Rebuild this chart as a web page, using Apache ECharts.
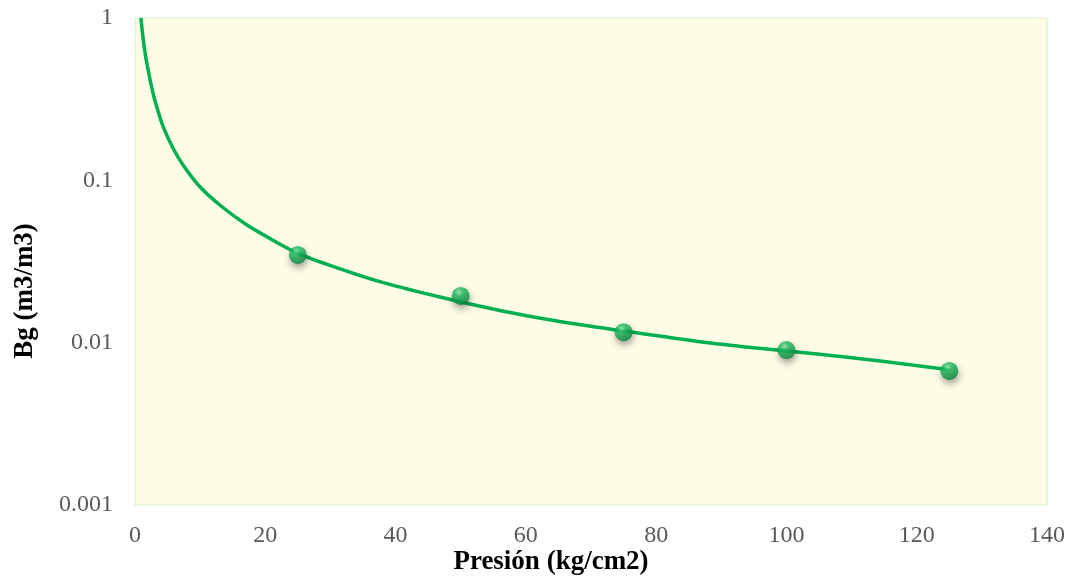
<!DOCTYPE html>
<html>
<head>
<meta charset="utf-8">
<script src="https://cdn.jsdelivr.net/npm/echarts@6/dist/echarts.min.js"></script>
<style>
  html, body { margin: 0; padding: 0; background: #ffffff; }
  #chart { width: 1070px; height: 586px; }
</style>
</head>
<body>
<div id="chart"></div>
<script>
// Measured gas formation volume factor vs. pressure
const pressure = [25, 50, 75, 100, 125];
const bg = [0.0347, 0.0194, 0.0116, 0.0090, 0.0067];

// Fitted trend curve, sampled along its length
const trendX = [0.9, 1.3, 1.8, 2.8, 3.5, 4.3, 5.9, 7.4, 10, 13.3, 16.9, 20, 25, 31.5, 38, 46.8, 56, 65.2, 75, 87, 95, 103.6, 114.4, 125];
const trendY = [1.0, 0.72, 0.53, 0.34, 0.27, 0.215, 0.156, 0.124, 0.091, 0.069, 0.054, 0.0455, 0.0355, 0.0285, 0.0235, 0.0191, 0.0158, 0.0135, 0.0118, 0.0101, 0.0093, 0.0086, 0.0077, 0.0068];

// Axis ticks
const xTicks = { min: 0, max: 140, step: 20 };
const yTicks = { min: 0.001, max: 1 };

const xTitle = 'Presión (kg/cm2)';
const yTitle = 'Bg (m3/m3)';

const font = '"Liberation Serif", "Times New Roman", serif';

const chart = echarts.init(document.getElementById('chart'), null, { renderer: 'canvas' });

const sphere = {
  type: 'radial', x: 0.4, y: 0.3, r: 0.75,
  colorStops: [
    { offset: 0, color: '#7ee8a6' },
    { offset: 0.3, color: '#1fbb5e' },
    { offset: 0.75, color: '#0f9a4a' },
    { offset: 1, color: '#087235' }
  ]
};

chart.setOption({
  animation: false,
  backgroundColor: '#ffffff',
  grid: {
    left: 135, right: 23, top: 18, bottom: 81,
    show: true,
    backgroundColor: '#fdfde6',
    borderColor: '#e2f4d8',
    borderWidth: 1.5
  },
  xAxis: {
    type: 'value',
    min: xTicks.min, max: xTicks.max, interval: xTicks.step,
    axisLine: { show: false },
    axisTick: { show: false },
    splitLine: { show: false },
    axisLabel: { color: '#595959', fontFamily: font, fontSize: 24, margin: 19 }
  },
  yAxis: {
    type: 'log', logBase: 10,
    min: yTicks.min, max: yTicks.max,
    axisLine: { show: false },
    axisTick: { show: false },
    splitLine: { show: false },
    minorSplitLine: { show: false },
    axisLabel: {
      color: '#595959', fontFamily: font, fontSize: 24, margin: 22,
      formatter: v => String(Number(v.toPrecision(3)))
    }
  },
  graphic: [
    {
      type: 'text', x: 551, y: 562,
      style: { text: xTitle, font: 'bold 27px ' + font, fill: '#000000', align: 'center', verticalAlign: 'middle' }
    },
    {
      type: 'text', x: 25, y: 291, rotation: Math.PI / 2,
      style: { text: yTitle, font: 'bold 27px ' + font, fill: '#000000', align: 'center', verticalAlign: 'middle' }
    }
  ],
  series: [
    {
      type: 'line',
      data: trendX.map((x, i) => [x, trendY[i]]),
      smooth: 0.3,
      showSymbol: false,
      lineStyle: { color: '#00b050', width: 3.5 },
      z: 2
    },
    {
      type: 'scatter',
      data: pressure.map((x, i) => [x, bg[i]]),
      symbol: 'circle',
      symbolSize: 18,
      itemStyle: {
        color: sphere,
        shadowBlur: 7,
        shadowColor: 'rgba(0,0,0,0.45)',
        shadowOffsetX: 1,
        shadowOffsetY: 4
      },
      z: 3
    }
  ]
});
</script>
</body>
</html>
